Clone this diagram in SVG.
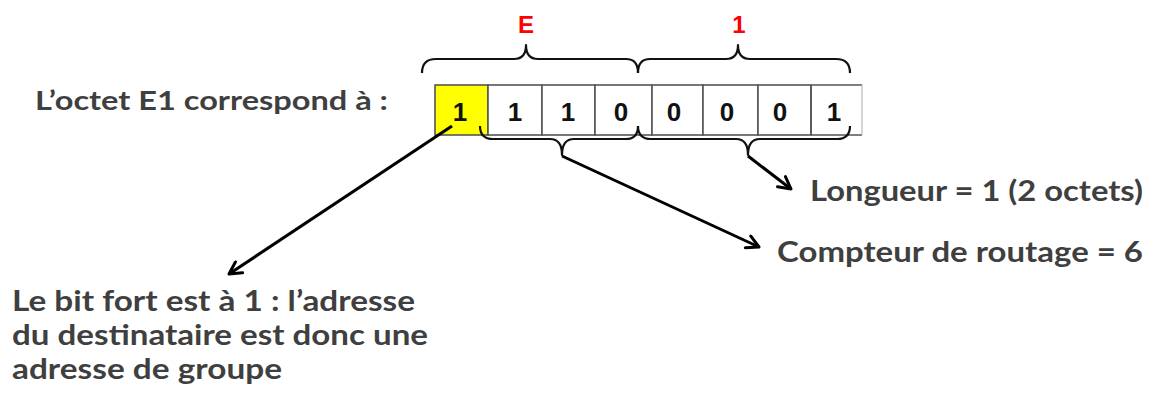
<svg xmlns="http://www.w3.org/2000/svg" width="1162" height="394" viewBox="0 0 1162 394">
  <defs>
    <marker id="arrow" viewBox="0 0 16 16" refX="14" refY="8" markerWidth="16" markerHeight="16" markerUnits="userSpaceOnUse" orient="auto">
      <path d="M2,1.5 L14,8 L2,14.5" fill="none" stroke="#000" stroke-width="3" stroke-linecap="round" stroke-linejoin="round"/>
    </marker>
    <style>
      .txt { font-family: Lato, "Liberation Sans", sans-serif; font-weight: bold; fill: #3f3f3f; }
      .hex { font-family: "Liberation Sans", Arial, sans-serif; font-weight: bold; fill: #ff0000; font-size: 24px; text-anchor: middle; }
      .bit { font-family: "Liberation Sans", Arial, sans-serif; font-weight: bold; fill: #111; font-size: 26px; text-anchor: middle; }
      .cell { fill: #fff; stroke: #555; stroke-width: 1.6; }
      .brace { fill: none; stroke: #111; stroke-width: 2.2; stroke-linejoin: round; }
      .conn { fill: none; stroke: #000; stroke-width: 3; marker-end: url(#arrow); }
    </style>
  </defs>
  <rect width="1162" height="394" fill="#fff"/>

  <!-- heading -->
  <g id="heading">
    <text class="txt" x="35" y="110" font-size="27" textLength="353" lengthAdjust="spacingAndGlyphs">L’octet E1 correspond à :</text>
  </g>

  <!-- hex digits above the byte -->
  <g id="hex-digits">
    <text class="hex" x="526" y="33">E</text>
    <text class="hex" x="739" y="33">1</text>
  </g>

  <!-- nibble braces (top) -->
  <g id="top-braces">
    <path class="brace" d="M422,73 Q422,59 436,59 L514,59 Q526,59 526,45 Q526,59 538,59 L626,59 Q638,59 638,73"/>
    <path class="brace" d="M638,73 Q638,59 650,59 L726,59 Q738,59 738,45 Q738,59 750,59 L836,59 Q850,59 850,73"/>
  </g>

  <!-- the byte: 8 bit cells -->
  <g id="byte">
    <rect class="cell" x="435" y="85" width="53" height="50" style="fill:#ffff00"/>
    <rect class="cell" x="488" y="85" width="54" height="50"/>
    <rect class="cell" x="542" y="85" width="53" height="50"/>
    <rect class="cell" x="595" y="85" width="57" height="50"/>
    <rect class="cell" x="652" y="85" width="51" height="50"/>
    <rect class="cell" x="703" y="85" width="55" height="50"/>
    <rect class="cell" x="758" y="85" width="53" height="50"/>
    <path d="M811,85 L862,85 M811,135 L862,135 M811,85 L811,135" fill="none" stroke="#555" stroke-width="1.6"/>
    <path d="M862,85 L862,135" fill="none" stroke="#bbb" stroke-width="1.2"/>
    <text class="bit" x="460" y="121">1</text>
    <text class="bit" x="515" y="121">1</text>
    <text class="bit" x="568" y="121">1</text>
    <text class="bit" x="621" y="121">0</text>
    <text class="bit" x="674" y="121">0</text>
    <text class="bit" x="727" y="121">0</text>
    <text class="bit" x="780" y="121">0</text>
    <text class="bit" x="834" y="121">1</text>
  </g>

  <!-- field braces (bottom) -->
  <g id="bottom-braces">
    <path class="brace" d="M480,126 Q480,139 493,139 L550,139 Q562,139 562,155 Q562,139 574,139 L626,139 Q638,139 638,126"/>
    <path class="brace" d="M638,126 Q638,139 651,139 L736,139 Q748,139 748,155 Q748,139 760,139 L837,139 Q850,139 850,126"/>
  </g>

  <!-- connectors -->
  <g id="connectors">
    <path class="conn" d="M452,126 L229,274"/>
    <path class="conn" d="M562,156 L759,247"/>
    <path class="conn" d="M748,156 L791,189"/>
  </g>

  <!-- labels -->
  <g id="label-length">
    <text class="txt" x="810" y="201" font-size="28" textLength="333" lengthAdjust="spacingAndGlyphs">Longueur = 1 (2 octets)</text>
  </g>
  <g id="label-hop-count">
    <text class="txt" x="777" y="262" font-size="28" textLength="366" lengthAdjust="spacingAndGlyphs">Compteur de routage = 6</text>
  </g>
  <g id="label-group-address">
    <text class="txt" x="12" y="311" font-size="28" textLength="403" lengthAdjust="spacingAndGlyphs">Le bit fort est à 1 : l’adresse</text>
    <text class="txt" x="12" y="345" font-size="28" textLength="416" lengthAdjust="spacingAndGlyphs">du destinataire est donc une</text>
    <text class="txt" x="12" y="379" font-size="28" textLength="270" lengthAdjust="spacingAndGlyphs">adresse de groupe</text>
  </g>
</svg>
